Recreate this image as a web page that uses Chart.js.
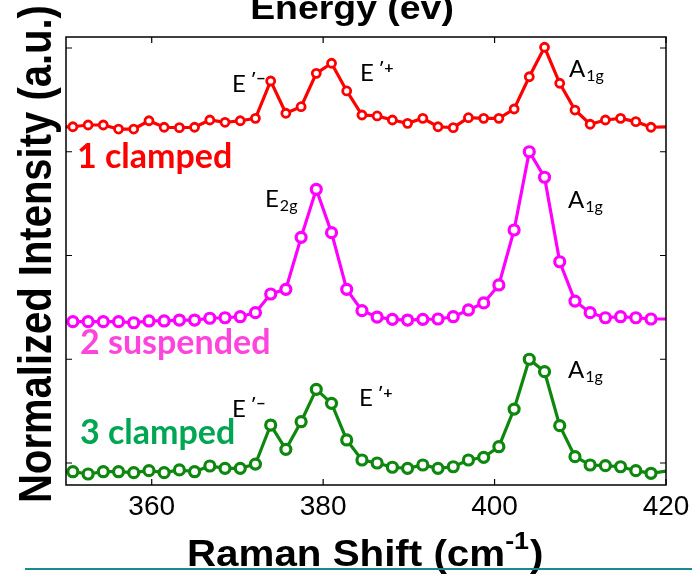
<!DOCTYPE html>
<html>
<head>
<meta charset="utf-8">
<script src="https://cdn.jsdelivr.net/npm/chart.js@4"></script>
<style>
  html, body { margin: 0; padding: 0; background: #fff; }
  #wrap { width: 692px; height: 576px; position: relative; }
</style>
</head>
<body>
<div id="wrap"><canvas id="ramanChart" width="692" height="576"></canvas></div>
<script>
// Raman shift (cm-1) of each measured point
const ramanShift = [349.03, 350.80, 352.58, 354.35, 356.13, 357.90, 359.68, 361.45, 363.23, 365.00,
  366.78, 368.55, 370.33, 372.10, 373.88, 375.65, 377.43, 379.20, 380.98, 382.75,
  384.53, 386.30, 388.08, 389.85, 391.63, 393.40, 395.18, 396.95, 398.73, 400.50,
  402.28, 404.05, 405.83, 407.60, 409.38, 411.15, 412.93, 414.70, 416.48, 418.25, 420.03];

// normalized intensity, already stacked with the offsets of the figure
const clamped1 = [3.239, 3.241, 3.258, 3.258, 3.219, 3.219, 3.299, 3.236, 3.232, 3.236,
  3.306, 3.284, 3.299, 3.322, 3.682, 3.371, 3.434, 3.756, 3.853, 3.586,
  3.354, 3.345, 3.306, 3.274, 3.322, 3.241, 3.232, 3.328, 3.322, 3.322,
  3.412, 3.723, 4.007, 3.660, 3.402, 3.265, 3.306, 3.322, 3.290, 3.236, 3.239];

const suspended2 = [1.362, 1.362, 1.362, 1.362, 1.362, 1.352, 1.369, 1.369, 1.378, 1.378,
  1.395, 1.400, 1.410, 1.449, 1.629, 1.674, 2.175, 2.638, 2.220, 1.674,
  1.468, 1.407, 1.385, 1.378, 1.385, 1.388, 1.410, 1.475, 1.543, 1.716,
  2.246, 3.000, 2.754, 1.940, 1.561, 1.449, 1.400, 1.410, 1.400, 1.388, 1.388];

const clamped3 = [-0.084, -0.084, -0.106, -0.084, -0.084, -0.093, -0.074, -0.093, -0.067, -0.084,
  -0.029, -0.051, -0.051, -0.010, 0.366, 0.132, 0.398, 0.710, 0.575, 0.222,
  0.029, 0.000, -0.041, -0.051, -0.019, -0.051, -0.036, 0.029, 0.055, 0.157,
  0.520, 1.000, 0.880, 0.360, 0.061, -0.019, -0.026, -0.036, -0.074, -0.099, -0.077];

const xTicks = [360, 380, 400, 420];
const yTicks = [0, 1, 2, 3, 4];

const seriesLabels = ['1 clamped', '2 suspended', '3 clamped'];

const toPoints = arr => ramanShift.map((x, i) => ({ x: x, y: arr[i] }));
// markers only inside the axis range, the line itself runs to the frame
const markerSize = r => c => (ramanShift[c.dataIndex] < 350 || ramanShift[c.dataIndex] > 420) ? 0 : r;

function stretchText(ctx, text, x, y, sx, rot) {
  ctx.save();
  ctx.translate(x, y);
  ctx.scale(sx, 1);
  if (rot) ctx.rotate(rot);
  ctx.fillText(text, 0, 0);
  ctx.restore();
}

// peak label like E'- or A1g: main letter + small raised/lowered part
function peakLabel(ctx, main, small, x, y, raised) {
  ctx.fillStyle = '#000';
  ctx.textAlign = 'left';
  ctx.textBaseline = 'alphabetic';
  ctx.font = '24px Lato';
  ctx.fillText(main, x, y);
  const w = ctx.measureText(main).width;
  ctx.font = (raised ? 'bold 16px Lato' : '16px Lato');
  ctx.fillText(small, x + w + (raised ? 5 : 1), raised ? y - 8 : y + 4);
}

const overlay = {
  id: 'overlay',
  afterDatasetsDraw(chart) {
    const { ctx, chartArea: a, scales } = chart;
    ctx.save();
    ctx.strokeStyle = '#000';
    ctx.lineWidth = 1.5;
    ctx.strokeRect(a.left, a.top, a.right - a.left, a.bottom - a.top);
    ctx.lineWidth = 1.2;
    ctx.beginPath();
    xTicks.forEach(v => {
      const px = scales.x.getPixelForValue(v);
      ctx.moveTo(px, a.bottom); ctx.lineTo(px, a.bottom - 6);
      ctx.moveTo(px, a.top); ctx.lineTo(px, a.top + 6);
    });
    yTicks.forEach(v => {
      const py = scales.y.getPixelForValue(v);
      ctx.moveTo(a.left, py); ctx.lineTo(a.left + 6, py);
      ctx.moveTo(a.right, py); ctx.lineTo(a.right - 6, py);
    });
    ctx.stroke();
    ctx.restore();
  },
  afterDraw(chart) {
    const { ctx } = chart;
    ctx.save();
    ctx.fillStyle = '#000';
    ctx.textBaseline = 'alphabetic';

    // top title (cut by the frame of the slide)
    ctx.font = 'bold 34px "Liberation Sans"';
    ctx.textAlign = 'center';
    stretchText(ctx, 'Energy (ev)', 352, 19, 1.1);

    // x title with superscript
    ctx.textAlign = 'left';
    ctx.font = 'bold 36px "Liberation Sans"';
    const xt = 'Raman Shift (cm';
    const xw = ctx.measureText(xt).width * 1.12;
    stretchText(ctx, xt, 187, 566, 1.12);
    ctx.font = 'bold 24px "Liberation Sans"';
    const sup = '-1';
    const sw = ctx.measureText(sup).width * 1.12;
    stretchText(ctx, sup, 187 + xw, 549, 1.12);
    ctx.font = 'bold 36px "Liberation Sans"';
    stretchText(ctx, ')', 187 + xw + sw + 1, 566, 1.12);

    // y title
    ctx.font = 'bold 40px "Liberation Sans"';
    ctx.textAlign = 'center';
    stretchText(ctx, 'Normalized Intensity (a.u.)', 51, 254, 1.14, -Math.PI / 2);

    // sample labels
    ctx.textAlign = 'left';
    ctx.font = 'bold 34px Lato';
    ctx.fillStyle = '#ff0000';
    ctx.fillText(seriesLabels[0], 77, 168);
    ctx.fillStyle = '#ff44dd';
    ctx.fillText(seriesLabels[1], 80, 354);
    ctx.fillStyle = '#00a651';
    ctx.fillText(seriesLabels[2], 80, 444);

    // peak names
    peakLabel(ctx, 'E', '\u2032\u2212', 232, 92, true);
    peakLabel(ctx, 'E', '\u2032+', 360, 81, true);
    peakLabel(ctx, 'A', '1g', 569, 77, false);
    peakLabel(ctx, 'E', '2g', 265, 207, false);
    peakLabel(ctx, 'A', '1g', 568, 208, false);
    peakLabel(ctx, 'E', '\u2032\u2212', 232, 417, true);
    peakLabel(ctx, 'E', '\u2032+', 359, 406, true);
    peakLabel(ctx, 'A', '1g', 568, 378, false);

    // teal rule of the slide
    ctx.strokeStyle = '#1a8a8c';
    ctx.lineWidth = 2;
    ctx.beginPath();
    ctx.moveTo(25, 569); ctx.lineTo(692, 569);
    ctx.stroke();
    ctx.restore();
  }
};

const ctx = document.getElementById('ramanChart').getContext('2d');
new Chart(ctx, {
  type: 'line',
  data: {
    datasets: [
      {
        label: seriesLabels[0],
        data: toPoints(clamped1),
        borderColor: '#ff0000',
        backgroundColor: '#ffffff',
        borderWidth: 3.2,
        pointRadius: markerSize(4),
        pointBorderWidth: 2.8,
        pointBackgroundColor: '#ffffff',
        pointBorderColor: '#ff0000',
        tension: 0
      },
      {
        label: seriesLabels[1],
        data: toPoints(suspended2),
        borderColor: '#ff00ff',
        backgroundColor: '#ffffff',
        borderWidth: 3.2,
        pointRadius: markerSize(5),
        pointBorderWidth: 3.2,
        pointBackgroundColor: '#ffffff',
        pointBorderColor: '#ff00ff',
        tension: 0
      },
      {
        label: seriesLabels[2],
        data: toPoints(clamped3),
        borderColor: '#0e870e',
        backgroundColor: '#ffffff',
        borderWidth: 3.2,
        pointRadius: markerSize(5),
        pointBorderWidth: 3.2,
        pointBackgroundColor: '#ffffff',
        pointBorderColor: '#0e870e',
        tension: 0
      }
    ]
  },
  options: {
    responsive: false,
    animation: false,
    layout: { autoPadding: false, padding: { left: 66, top: 37, right: 26, bottom: 51 } },
    plugins: { legend: { display: false }, tooltip: { enabled: false } },
    scales: {
      x: {
        type: 'linear',
        min: 350,
        max: 420,
        afterBuildTicks: axis => { axis.ticks = xTicks.map(v => ({ value: v })); },
        afterFit: axis => { axis.paddingLeft = 0; axis.paddingRight = 0; axis.height = 40; },
        grid: { display: false, drawTicks: false },
        border: { display: false },
        ticks: {
          font: { family: '"Liberation Sans"', size: 28 },
          color: '#000',
          padding: 5,
          maxRotation: 0
        }
      },
      y: {
        display: false,
        min: -0.212,
        max: 4.106,
        afterBuildTicks: axis => { axis.ticks = yTicks.map(v => ({ value: v })); }
      }
    }
  },
  plugins: [overlay]
});
</script>
</body>
</html>
